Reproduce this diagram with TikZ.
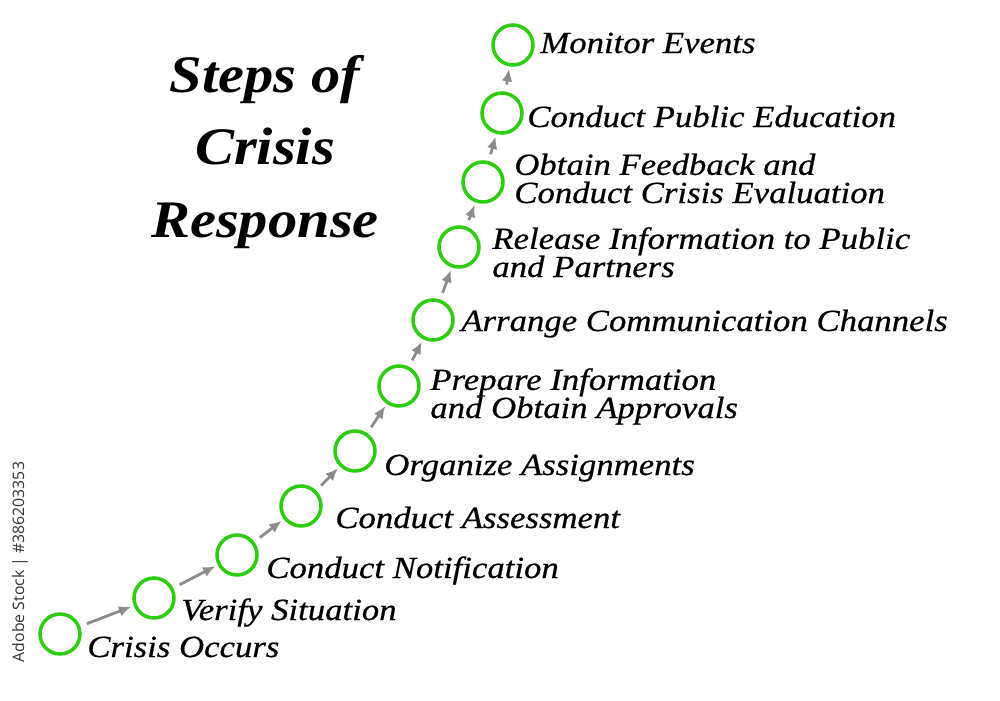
\documentclass[tikz,border=0pt]{standalone}
\usepackage{fontspec}
\setmainfont{Liberation Serif}
\newfontfamily\lblfont[FakeStretch=1.13,FakeBold=0.6]{Liberation Serif}
\newfontfamily\ttlfont[FakeStretch=1.11]{Liberation Serif}
\setsansfont{Open Sans}
\usetikzlibrary{arrows.meta}
\definecolor{ringgreen}{RGB}{45,205,15}
\definecolor{arrowgray}{RGB}{140,140,140}
\begin{document}
\begin{tikzpicture}[x=0.02cm,y=-0.02cm,
  ring/.style={circle,draw=ringgreen,line width=2pt,minimum size=0.8cm,inner sep=0pt},
  arr/.style={draw=arrowgray,line width=1.6pt,-{Latex[length=7pt,width=6pt]},shorten <=4pt,shorten >=1.5pt},
  lbl/.style={anchor=base west,inner sep=0pt,font=\lblfont\fontsize{17.5}{16}\selectfont\itshape,align=left},
  ttl/.style={anchor=base,inner sep=0pt,font=\ttlfont\fontsize{30}{41}\selectfont\bfseries\itshape,align=center}]
\useasboundingbox (0,0) rectangle (1000,700);
\fill[white] (0,0) rectangle (1000,700);

\node[ttl] (title) at (265,237) {Steps of\\Crisis\\Response};

\node[ring] (c1) at (60,634) {};
\node[ring] (c2) at (154,598) {};
\node[ring] (c3) at (237,555) {};
\node[ring] (c4) at (301,506) {};
\node[ring] (c5) at (355,451) {};
\node[ring] (c6) at (399,386) {};
\node[ring] (c7) at (433,320) {};
\node[ring] (c8) at (459,247) {};
\node[ring] (c9) at (483,182) {};
\node[ring] (c10) at (502,113) {};
\node[ring] (c11) at (513,45) {};

\foreach \a/\b in {c1/c2,c2/c3,c3/c4,c4/c5,c5/c6,c6/c7,c7/c8,c8/c9,c9/c10,c10/c11}
  \draw[arr] (\a) -- (\b);

\node[lbl] (l1) at (87,657) {Crisis Occurs};
\node[lbl] (l2) at (181,620) {Verify Situation};
\node[lbl] (l3) at (266,578) {Conduct Notification};
\node[lbl] (l4) at (335,528) {Conduct Assessment};
\node[lbl] (l5) at (384,475) {Organize Assignments};
\node[lbl] (l6) at (430,418) {Prepare Information\\and Obtain Approvals};
\node[lbl] (l7) at (461,331) {Arrange Communication Channels};
\node[lbl] (l8) at (492,277) {Release Information to Public\\and Partners};
\node[lbl] (l9) at (514,203) {Obtain Feedback and\\Conduct Crisis Evaluation};
\node[lbl] (l10) at (527,127) {Conduct Public Education};
\node[lbl] (l11) at (540,53) {Monitor Events};

\node[rotate=90,inner sep=0pt,font=\sffamily\fontsize{9}{11}\selectfont,text=black!80] (wm) at (20,562) {Adobe Stock | \#386203353};
\end{tikzpicture}
\end{document}
